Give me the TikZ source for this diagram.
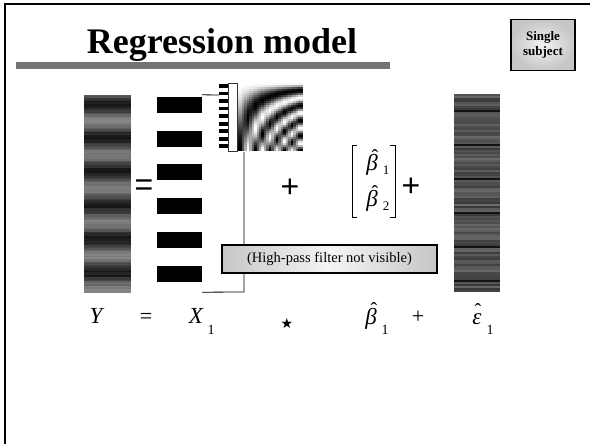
\documentclass[tikz,border=0pt]{standalone}
\usepackage{fontspec}
\setmainfont{Liberation Serif}
\newfontfamily\arialf{Liberation Sans}
\newfontfamily\djv{DejaVu Sans}
\tikzset{
  eqit/.style={inner sep=0pt, font=\fontsize{23}{23}\selectfont\itshape},
  eqrm/.style={inner sep=0pt, font=\fontsize{22}{22}\selectfont},
  subs/.style={inner sep=0pt, font=\fontsize{14}{14}\selectfont},
  bigsym/.style={inner sep=0pt, font=\arialf\fontsize{32}{32}\selectfont},
  vecit/.style={inner sep=0pt, font=\fontsize{23}{23}\selectfont\itshape},
  vecsub/.style={inner sep=0pt, font=\fontsize{13}{13}\selectfont},
  hatit/.style={inner sep=0pt, font=\fontsize{20}{20}\selectfont},
  blk/.style={fill=black},
  conn/.style={draw=black, line width=0.8pt},
  labelbox/.style={draw=black, line width=1.2pt, left color=gray!45, right color=gray!45, middle color=gray!8,
                   minimum width=215pt, minimum height=28pt, inner sep=0pt, font=\fontsize{14.5}{14.5}\selectfont},
  subjbox/.style={draw=black, line width=1.2pt, inner color=gray!10, outer color=gray!45,
                  minimum width=64pt, minimum height=51pt, inner sep=0pt, align=center,
                  font=\bfseries\fontsize{13}{15}\selectfont}
}
\begin{document}
\begin{tikzpicture}[x=1pt,y=-1pt]
\useasboundingbox (0,0) rectangle (590,444);
% frame
\draw[line width=2pt, black] (5,444) -- (5,4) -- (590,4);
% title
\node[inner sep=0pt, anchor=base, font=\bfseries\fontsize{36}{36}\selectfont] (title) at (222,54) {Regression model};
\fill[black!55] (16,62) rectangle (390,69);
\node[subjbox] (subj) at (543,45) {Single\\subject};

% Y column
\pgfmathsetseed{11}
\foreach \i in {0,...,131}{
  \pgfmathsetmacro\yy{95+1.5*\i}
  \pgfmathsetmacro\L{max(9,min(52,100*(0.31-0.20*cos(10.746*(\yy-104))+0.11*(rnd-0.5))))}
  \fill[white!\L!black] (84,\yy) rectangle (131,\yy+1.6);
}
\node[inner sep=0pt, minimum width=47pt, minimum height=198pt] (ycol) at (107.5,194) {};

% equals
\node[bigsym] (eq1) at (144,188) {=};

% design matrix
\node[inner sep=0pt, minimum width=45pt, minimum height=197pt] (xmat) at (179.5,193.5) {};
\foreach \t in {97,131,164,198,232,266}{
  \fill[blk] (157,\t) rectangle (202,\t+16);
}

% filter image: left stripes
\foreach \j in {0,...,8}{
  \fill[black] (219,84+7.55*\j) rectangle (228,87.8+7.55*\j);
}
% DCT-like pattern (9 basis columns, softened between columns)
\foreach \s in {0,...,26}{
  \pgfmathsetmacro\kk{0.5+(\s+0.5)/3}
  \pgfmathsetmacro\ka{max(1,floor(\kk))}
  \pgfmathsetmacro\kb{min(9,\ka+1)}
  \pgfmathsetmacro\f{min(1,max(0,\kk-\ka))}
  \foreach \r in {0,...,33}{
    \pgfmathsetmacro\th{5.2941*(\r+0.5)}
    \pgfmathsetmacro\L{100*(0.5+0.5*((1-\f)*cos(\ka*\th)+\f*cos(\kb*\th)))}
    \fill[white!\L!black] (237+2.44*\s,83+2*\r) rectangle (237+2.44*\s+2.5,85.1+2*\r);
  }
}
\draw[black!80, line width=0.9pt, fill=white] (228.5,83.5) rectangle (237,151);
\node[inner sep=0pt, minimum width=87pt, minimum height=69pt] (filt) at (262.5,117.5) {};

% bracket connectors
\coordinate (b1) at (219,95);
\coordinate (b2) at (244,292);
\coordinate (b3) at (244,152);
\draw[conn] (xmat.north east) -- (b1);
\draw[conn] (xmat.south east) -- (b2) -- (b3);

% plus
\node[bigsym] (plus1) at (290,188) {+};

% beta vector
\draw[line width=0.8pt] (357,145) -- (352,145) -- (352,217) -- (357,217);
\draw[line width=0.8pt] (390,145) -- (395,145) -- (395,217) -- (390,217);
\node[vecit, anchor=base] (vb1) at (372,171) {β};
\node[hatit, anchor=base] (vh1) at (375,164) {ˆ};
\node[vecsub, anchor=base] (vs1) at (386,175) {1};
\node[vecit, anchor=base] (vb2) at (372,206) {β};
\node[hatit, anchor=base] (vh2) at (375,199) {ˆ};
\node[vecsub, anchor=base] (vs2) at (386,210) {2};
\node[bigsym] (plus2) at (411,187) {+};

% residual column
\pgfmathsetseed{5}
\foreach \i in {0,...,98}{
  \pgfmathsetmacro\yy{94+2*\i}
  \pgfmathsetmacro\m{mod(\i,17)}
  \pgfmathsetmacro\L{(\m==8) ? 7 : (100*(0.22+0.2*rnd))}
  \fill[white!\L!black] (454,\yy) rectangle (500,\yy+2.1);
}
\node[inner sep=0pt, minimum width=46pt, minimum height=198pt] (rcol) at (477,193) {};

% label box
\node[labelbox] (lbl) at (329.5,259) {(High-pass filter not visible)};

% bottom equation
\node[eqit, anchor=base] (ysym) at (96,323) {Y};
\node[eqrm, anchor=base] (eq2) at (146,323) {=};
\node[eqit, anchor=base] (xsym) at (196,323) {X};
\node[subs, anchor=base] (xsub) at (211,334) {1};
\node[inner sep=0pt, font=\djv\fontsize{14}{14}\selectfont] (star) at (287,323) {★};
\node[eqit, anchor=base] (bsym) at (371,324) {β};
\node[hatit, anchor=base] (bhat) at (374,316) {ˆ};
\node[subs, anchor=base] (bsub) at (385,334) {1};
\node[eqrm, anchor=base] (plus3) at (418,323) {+};
\node[eqit, anchor=base] (esym) at (477,324) {ε};
\node[hatit, anchor=base] (ehat) at (478,317) {ˆ};
\node[subs, anchor=base] (esub) at (490,334) {1};
\end{tikzpicture}
\end{document}
